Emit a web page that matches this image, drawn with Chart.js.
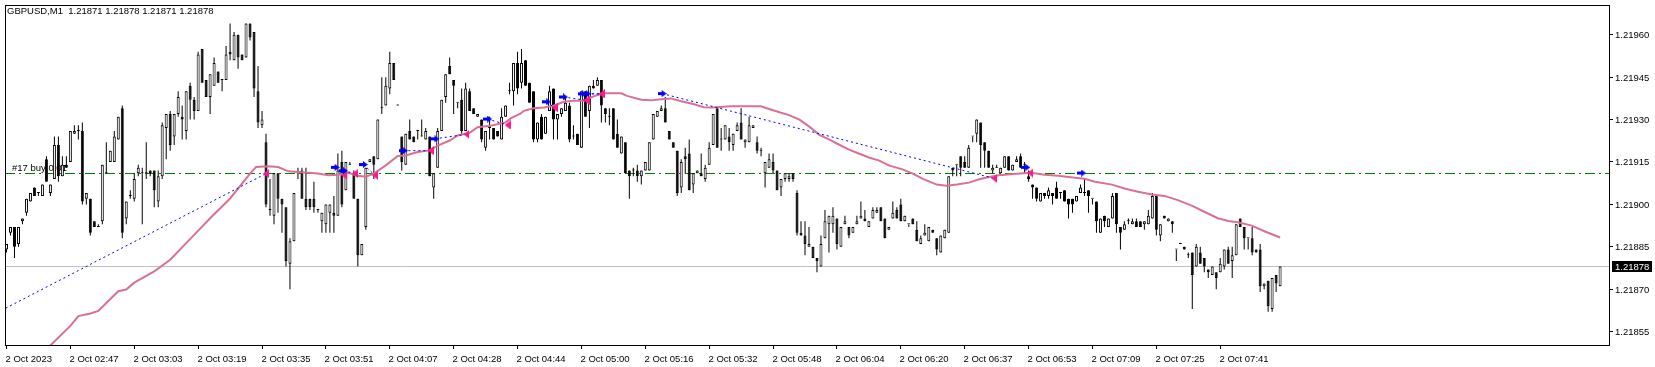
<!DOCTYPE html>
<html>
<head>
<meta charset="utf-8">
<script src="https://cdn.jsdelivr.net/npm/chart.js@4.4.0/dist/chart.umd.min.js"></script>
<style>
html, body { margin: 0; padding: 0; background: #fff; }
#wrap { width: 1655px; height: 367px; }
</style>
</head>
<body>
<div id="wrap"><canvas id="chart" width="1655" height="367"></canvas></div>
<script>
// GBPUSD M1, 320 bars
var opens = [
1.21884,1.21890,1.21892,1.21886,1.21894,1.21897,1.21901,1.21906,1.21904,1.21903,
1.21916,1.21904,1.21909,1.21921,1.21910,1.21914,1.21915,1.21925,1.21926,1.21926,
1.21902,1.21902,1.21894,1.21892,1.21894,1.21911,1.21915,1.21915,1.21923,1.21934,
1.21895,1.21903,1.21902,1.21911,1.21911,1.21911,1.21912,1.21912,1.21901,1.21910,
1.21927,1.21932,1.21924,1.21932,1.21931,1.21926,1.21942,1.21937,1.21933,1.21955,
1.21944,1.21938,1.21942,1.21947,1.21944,1.21944,1.21954,1.21951,1.21960,1.21953,
1.21952,1.21964,1.21961,1.21940,1.21928,1.21922,1.21898,1.21896,1.21911,1.21902,
1.21899,1.21879,1.21887,1.21911,1.21912,1.21902,1.21902,1.21902,1.21898,1.21894,
1.21893,1.21897,1.21897,1.21896,1.21915,1.21905,1.21914,1.21911,1.21902,1.21882,
1.21892,1.21915,1.21917,1.21916,1.21934,1.21935,1.21941,1.21950,1.21935,1.21924,
1.21914,1.21926,1.21924,1.21926,1.21924,1.21923,1.21924,1.21906,1.21913,1.21926,
1.21938,1.21949,1.21944,1.21936,1.21937,1.21926,1.21940,1.21934,1.21931,1.21930,
1.21920,1.21927,1.21927,1.21926,1.21923,1.21931,1.21940,1.21940,1.21950,1.21943,
1.21951,1.21943,1.21940,1.21923,1.21931,1.21925,1.21933,1.21941,1.21930,1.21932,
1.21933,1.21935,1.21924,1.21925,1.21920,1.21940,1.21933,1.21942,1.21942,1.21944,
1.21934,1.21931,1.21934,1.21925,1.21918,1.21922,1.21912,1.21912,1.21912,1.21910,
1.21912,1.21912,1.21923,1.21931,1.21933,1.21934,1.21926,1.21922,1.21919,1.21906,
1.21917,1.21918,1.21907,1.21911,1.21911,1.21909,1.21914,1.21921,1.21934,1.21923,
1.21923,1.21924,1.21921,1.21926,1.21929,1.21922,1.21922,1.21927,1.21922,1.21919,
1.21911,1.21913,1.21915,1.21912,1.21906,1.21909,1.21909,1.21911,1.21904,1.21890,
1.21889,1.21885,1.21885,1.21881,1.21878,1.21888,1.21893,1.21893,1.21895,1.21885,
1.21893,1.21892,1.21890,1.21893,1.21895,1.21895,1.21892,1.21895,1.21897,1.21899,
1.21895,1.21891,1.21895,1.21898,1.21900,1.21894,1.21893,1.21895,1.21891,1.21886,
1.21889,1.21887,1.21891,1.21888,1.21883,1.21888,1.21890,1.21913,1.21914,1.21917,
1.21915,1.21913,1.21924,1.21925,1.21929,1.21922,1.21919,1.21912,1.21913,1.21911,
1.21913,1.21917,1.21912,1.21915,1.21917,1.21914,1.21910,1.21907,1.21906,1.21901,
1.21904,1.21903,1.21904,1.21906,1.21904,1.21905,1.21902,1.21902,1.21901,1.21904,
1.21904,1.21905,1.21902,1.21901,1.21890,1.21896,1.21892,1.21895,1.21904,1.21892,
1.21891,1.21894,1.21893,1.21894,1.21894,1.21893,1.21893,1.21895,1.21903,1.21889,
1.21896,1.21894,1.21894,1.21884,1.21886,1.21885,1.21882,1.21883,1.21878,1.21883,
1.21881,1.21877,1.21875,1.21876,1.21876,1.21878,1.21884,1.21880,1.21882,1.21895,
1.21892,1.21888,1.21888,1.21884,1.21884,1.21871,1.21873,1.21863,1.21875,1.21871
];
var highs = [
1.21886,1.21892,1.21892,1.21892,1.21895,1.21902,1.21904,1.21906,1.21904,1.21907,
1.21917,1.21907,1.21924,1.21924,1.21917,1.21917,1.21926,1.21928,1.21928,1.21929,
1.21904,1.21902,1.21894,1.21893,1.21914,1.21922,1.21919,1.21926,1.21931,1.21935,
1.21901,1.21905,1.21911,1.21914,1.21913,1.21922,1.21912,1.21912,1.21912,1.21929,
1.21932,1.21933,1.21932,1.21940,1.21935,1.21940,1.21943,1.21938,1.21954,1.21955,
1.21944,1.21946,1.21952,1.21947,1.21944,1.21956,1.21964,1.21961,1.21960,1.21953,
1.21964,1.21964,1.21961,1.21949,1.21933,1.21925,1.21909,1.21911,1.21911,1.21902,
1.21899,1.21888,1.21904,1.21913,1.21913,1.21913,1.21902,1.21908,1.21898,1.21897,
1.21900,1.21900,1.21903,1.21918,1.21919,1.21915,1.21915,1.21912,1.21902,1.21886,
1.21913,1.21916,1.21917,1.21930,1.21945,1.21945,1.21954,1.21950,1.21935,1.21924,
1.21925,1.21930,1.21924,1.21926,1.21930,1.21927,1.21924,1.21911,1.21927,1.21937,
1.21946,1.21952,1.21944,1.21936,1.21941,1.21943,1.21941,1.21934,1.21932,1.21930,
1.21926,1.21931,1.21927,1.21926,1.21934,1.21935,1.21943,1.21950,1.21954,1.21955,
1.21951,1.21943,1.21940,1.21929,1.21932,1.21931,1.21942,1.21941,1.21932,1.21934,
1.21938,1.21936,1.21928,1.21925,1.21940,1.21940,1.21942,1.21944,1.21945,1.21944,
1.21934,1.21934,1.21934,1.21930,1.21924,1.21922,1.21912,1.21913,1.21914,1.21912,
1.21915,1.21922,1.21932,1.21933,1.21935,1.21938,1.21926,1.21922,1.21919,1.21916,
1.21920,1.21923,1.21911,1.21912,1.21918,1.21914,1.21922,1.21932,1.21934,1.21927,
1.21928,1.21927,1.21925,1.21929,1.21934,1.21923,1.21931,1.21928,1.21924,1.21920,
1.21915,1.21918,1.21918,1.21912,1.21909,1.21911,1.21911,1.21911,1.21905,1.21894,
1.21894,1.21892,1.21885,1.21881,1.21889,1.21898,1.21896,1.21899,1.21895,1.21892,
1.21896,1.21892,1.21892,1.21896,1.21901,1.21898,1.21894,1.21899,1.21899,1.21899,
1.21895,1.21892,1.21901,1.21899,1.21902,1.21896,1.21893,1.21895,1.21894,1.21889,
1.21893,1.21892,1.21891,1.21888,1.21889,1.21891,1.21910,1.21913,1.21914,1.21917,
1.21917,1.21921,1.21924,1.21930,1.21929,1.21922,1.21919,1.21914,1.21914,1.21913,
1.21917,1.21917,1.21914,1.21917,1.21918,1.21915,1.21912,1.21907,1.21906,1.21904,
1.21904,1.21906,1.21904,1.21908,1.21904,1.21905,1.21902,1.21902,1.21903,1.21907,
1.21909,1.21905,1.21902,1.21901,1.21895,1.21896,1.21895,1.21904,1.21904,1.21892,
1.21894,1.21895,1.21895,1.21895,1.21894,1.21894,1.21898,1.21904,1.21903,1.21893,
1.21896,1.21895,1.21894,1.21884,1.21886,1.21885,1.21883,1.21883,1.21886,1.21885,
1.21881,1.21877,1.21878,1.21876,1.21881,1.21884,1.21885,1.21885,1.21893,1.21895,
1.21892,1.21888,1.21892,1.21884,1.21886,1.21872,1.21873,1.21874,1.21875,1.21878
];
var lows = [
1.21883,1.21889,1.21881,1.21885,1.21893,1.21896,1.21901,1.21903,1.21903,1.21903,
1.21908,1.21903,1.21909,1.21908,1.21910,1.21913,1.21915,1.21925,1.21923,1.21900,
1.21900,1.21889,1.21892,1.21892,1.21893,1.21911,1.21915,1.21915,1.21923,1.21888,
1.21893,1.21902,1.21901,1.21910,1.21893,1.21909,1.21910,1.21899,1.21899,1.21909,
1.21916,1.21919,1.21921,1.21931,1.21923,1.21923,1.21930,1.21930,1.21933,1.21943,
1.21938,1.21932,1.21942,1.21943,1.21940,1.21944,1.21951,1.21951,1.21948,1.21951,
1.21952,1.21958,1.21938,1.21927,1.21927,1.21899,1.21896,1.21893,1.21897,1.21890,
1.21878,1.21870,1.21887,1.21909,1.21902,1.21898,1.21898,1.21897,1.21897,1.21890,
1.21890,1.21890,1.21890,1.21896,1.21899,1.21905,1.21914,1.21902,1.21878,1.21882,
1.21891,1.21915,1.21909,1.21916,1.21932,1.21935,1.21939,1.21944,1.21935,1.21912,
1.21914,1.21923,1.21922,1.21923,1.21924,1.21923,1.21910,1.21902,1.21913,1.21926,
1.21936,1.21946,1.21932,1.21934,1.21925,1.21926,1.21933,1.21932,1.21931,1.21922,
1.21919,1.21923,1.21923,1.21924,1.21923,1.21931,1.21939,1.21935,1.21939,1.21941,
1.21942,1.21936,1.21922,1.21922,1.21923,1.21925,1.21933,1.21923,1.21923,1.21931,
1.21933,1.21922,1.21923,1.21921,1.21920,1.21931,1.21927,1.21941,1.21942,1.21929,
1.21929,1.21928,1.21923,1.21920,1.21918,1.21911,1.21902,1.21910,1.21908,1.21907,
1.21912,1.21912,1.21923,1.21931,1.21933,1.21929,1.21923,1.21920,1.21903,1.21904,
1.21911,1.21905,1.21904,1.21911,1.21910,1.21908,1.21914,1.21921,1.21920,1.21919,
1.21923,1.21919,1.21919,1.21926,1.21923,1.21920,1.21922,1.21927,1.21918,1.21917,
1.21906,1.21913,1.21911,1.21905,1.21903,1.21908,1.21908,1.21908,1.21889,1.21889,
1.21882,1.21885,1.21881,1.21876,1.21878,1.21888,1.21883,1.21890,1.21884,1.21885,
1.21893,1.21888,1.21890,1.21893,1.21895,1.21894,1.21892,1.21895,1.21897,1.21894,
1.21888,1.21891,1.21895,1.21895,1.21894,1.21894,1.21892,1.21893,1.21887,1.21886,
1.21889,1.21887,1.21890,1.21882,1.21883,1.21888,1.21890,1.21910,1.21910,1.21910,
1.21913,1.21913,1.21922,1.21922,1.21913,1.21913,1.21913,1.21911,1.21913,1.21911,
1.21913,1.21912,1.21912,1.21915,1.21913,1.21911,1.21908,1.21902,1.21901,1.21901,
1.21902,1.21902,1.21900,1.21902,1.21902,1.21901,1.21895,1.21897,1.21901,1.21904,
1.21903,1.21897,1.21900,1.21890,1.21890,1.21892,1.21892,1.21895,1.21890,1.21884,
1.21891,1.21893,1.21893,1.21892,1.21892,1.21891,1.21893,1.21895,1.21889,1.21887,
1.21895,1.21894,1.21890,1.21880,1.21886,1.21884,1.21881,1.21863,1.21878,1.21879,
1.21876,1.21874,1.21875,1.21870,1.21876,1.21877,1.21879,1.21874,1.21882,1.21892,
1.21884,1.21884,1.21882,1.21883,1.21869,1.21870,1.21862,1.21862,1.21869,1.21871
];
var closes = [
1.21886,1.21892,1.21885,1.21892,1.21895,1.21902,1.21904,1.21903,1.21904,1.21907,
1.21908,1.21907,1.21921,1.21910,1.21914,1.21913,1.21926,1.21926,1.21926,1.21901,
1.21904,1.21890,1.21892,1.21892,1.21914,1.21911,1.21919,1.21924,1.21931,1.21890,
1.21901,1.21903,1.21909,1.21913,1.21911,1.21911,1.21911,1.21905,1.21910,1.21928,
1.21932,1.21921,1.21932,1.21938,1.21930,1.21940,1.21937,1.21933,1.21953,1.21943,
1.21938,1.21946,1.21950,1.21943,1.21944,1.21953,1.21953,1.21960,1.21952,1.21951,
1.21964,1.21959,1.21941,1.21929,1.21930,1.21900,1.21898,1.21911,1.21902,1.21900,
1.21880,1.21887,1.21904,1.21911,1.21902,1.21899,1.21899,1.21899,1.21898,1.21897,
1.21900,1.21900,1.21896,1.21912,1.21900,1.21915,1.21914,1.21902,1.21882,1.21886,
1.21913,1.21916,1.21914,1.21930,1.21934,1.21942,1.21950,1.21944,1.21935,1.21915,
1.21925,1.21923,1.21922,1.21926,1.21924,1.21926,1.21910,1.21911,1.21926,1.21937,
1.21946,1.21946,1.21942,1.21936,1.21926,1.21941,1.21933,1.21932,1.21932,1.21923,
1.21926,1.21928,1.21923,1.21924,1.21931,1.21935,1.21940,1.21950,1.21941,1.21950,
1.21942,1.21936,1.21923,1.21929,1.21923,1.21931,1.21940,1.21930,1.21932,1.21934,
1.21936,1.21923,1.21924,1.21921,1.21940,1.21931,1.21942,1.21941,1.21944,1.21935,
1.21932,1.21931,1.21923,1.21920,1.21924,1.21911,1.21910,1.21912,1.21910,1.21912,
1.21915,1.21922,1.21932,1.21933,1.21934,1.21929,1.21923,1.21920,1.21904,1.21915,
1.21916,1.21905,1.21911,1.21912,1.21910,1.21913,1.21920,1.21932,1.21920,1.21923,
1.21928,1.21922,1.21925,1.21928,1.21923,1.21923,1.21928,1.21928,1.21919,1.21919,
1.21915,1.21916,1.21912,1.21905,1.21909,1.21911,1.21910,1.21909,1.21890,1.21889,
1.21886,1.21886,1.21881,1.21880,1.21886,1.21894,1.21896,1.21896,1.21886,1.21892,
1.21894,1.21889,1.21892,1.21894,1.21896,1.21894,1.21894,1.21898,1.21898,1.21894,
1.21888,1.21892,1.21897,1.21895,1.21894,1.21896,1.21893,1.21893,1.21887,1.21888,
1.21890,1.21892,1.21890,1.21884,1.21889,1.21891,1.21910,1.21912,1.21914,1.21913,
1.21913,1.21920,1.21924,1.21930,1.21921,1.21919,1.21913,1.21913,1.21913,1.21913,
1.21917,1.21912,1.21914,1.21916,1.21913,1.21914,1.21909,1.21906,1.21902,1.21904,
1.21903,1.21905,1.21903,1.21902,1.21904,1.21901,1.21900,1.21900,1.21903,1.21906,
1.21904,1.21903,1.21902,1.21894,1.21895,1.21894,1.21895,1.21903,1.21893,1.21890,
1.21893,1.21894,1.21894,1.21892,1.21892,1.21894,1.21896,1.21903,1.21891,1.21893,
1.21895,1.21895,1.21893,1.21884,1.21886,1.21884,1.21882,1.21875,1.21885,1.21879,
1.21878,1.21876,1.21878,1.21874,1.21879,1.21884,1.21879,1.21882,1.21893,1.21892,
1.21888,1.21888,1.21883,1.21883,1.21871,1.21872,1.21864,1.21874,1.21872,1.21878
];

// moving average (pink), read at these bar positions
var maIdx = [8,16,18,21,23,28,30,32,37,41,47,51,56,61,62.5,65.6,68,70.6,73,75.6,78,80.6,83,85.6,88,90,92,95,98,100,
  103,106,108,111,113,116,118,121.5,125,126.4,128.6,129.6,132,134.6,137,139.6,142,144.6,147,149.6,154,155.4,159,161.4,164,166.4,169,172,174.6,177,
  181.4,184.6,189,190.4,193.6,196,198.6,201,203.6,206,208.6,211,213.6,216,218.6,221,224.4,227,229.4,233,235.4,238,241.1,243.6,246.1,248.6,252.9,256.6,260,263.4,
  267.6,270,272.6,276.9,280,283.4,286.9,290,293.4,297,300,303.4,306,308.4,311.9,315.2,319];
var maVal = [1.218460,1.218570,1.218605,1.218614,1.218623,1.218693,1.218699,1.218723,1.218763,1.218804,1.218892,1.218951,1.219021,1.219109,1.219132,1.219135,1.219132,1.219117,1.219115,1.219112,1.219109,1.219103,1.219105,1.219112,1.219101,1.219098,1.219109,1.219138,1.219171,1.219173,
  1.219185,1.219191,1.219208,1.219226,1.219244,1.219253,1.219273,1.219279,1.219290,1.219305,1.219320,1.219331,1.219340,1.219343,1.219349,1.219363,1.219367,1.219367,1.219382,1.219393,1.219393,1.219384,1.219370,1.219368,1.219372,1.219375,1.219365,1.219355,1.219344,1.219343,
  1.219347,1.219347,1.219347,1.219340,1.219326,1.219316,1.219300,1.219276,1.219246,1.219230,1.219211,1.219194,1.219179,1.219166,1.219155,1.219138,1.219124,1.219109,1.219091,1.219070,1.219066,1.219070,1.219077,1.219089,1.219097,1.219103,1.219108,1.219112,1.219105,1.219101,
  1.219094,1.219091,1.219080,1.219070,1.219056,1.219045,1.219035,1.219030,1.219015,1.218995,1.218974,1.218951,1.218941,1.218937,1.218925,1.218904,1.218883];

// trades: open (blue arrow) -> close (pink triangle); null = still open
var tradeOpenIdx    = [-0.2, 82.3, 84.4, 89.4, 99.4, 107.3, 120.5, 135.3, 139.5, 144.2, 145.3, 164.2, 255.3, 269.3];
var tradeOpenPrice  = [1.218633, 1.219131, 1.219119, 1.219141, 1.219190, 1.219232, 1.219302, 1.219363, 1.219380, 1.219391, 1.219391, 1.219392, 1.219131, 1.219111];
var tradeCloseIdx   = [65.0, 84.6, 87.3, 92.3, 106.3, 115.2, 125.5, 137.3, 145.3, 149.2, 149.2, 247.4, 256.4, null];
var tradeClosePrice = [1.219109, 1.219103, 1.219109, 1.219103, 1.219190, 1.219248, 1.219281, 1.219342, 1.219368, 1.219391, 1.219391, 1.219092, 1.219111, null];

var orderPrice = 1.21911;
var orderLabel = '#17 buy 0.01';
var bidPrice = 1.21878;
var title = 'GBPUSD,M1  1.21871 1.21878 1.21871 1.21878';

var yTicks = [1.21960, 1.21945, 1.21930, 1.21915, 1.21900, 1.21885, 1.21870, 1.21855];
var xTickIdx = [0,16,32,48,64,80,96,112,128,144,160,176,192,208,224,240,256,272,288,304];
var xTickLabels = ['2 Oct 2023','2 Oct 02:47','2 Oct 03:03','2 Oct 03:19','2 Oct 03:35','2 Oct 03:51','2 Oct 04:07',
  '2 Oct 04:28','2 Oct 04:44','2 Oct 05:00','2 Oct 05:16','2 Oct 05:32','2 Oct 05:48','2 Oct 06:04','2 Oct 06:20',
  '2 Oct 06:37','2 Oct 06:53','2 Oct 07:09','2 Oct 07:25','2 Oct 07:41'];

var FONT = '9.5px "Liberation Sans", Arial, sans-serif';

// little icons for the trade arrows
function buyArrow() {
    var c = document.createElement('canvas');
    c.width = 9; c.height = 7;
    var g = c.getContext('2d');
    g.fillStyle = '#0000ff';
    g.beginPath();
    g.moveTo(0, 2); g.lineTo(4, 2); g.lineTo(4, 0); g.lineTo(9, 3.5);
    g.lineTo(4, 7); g.lineTo(4, 5); g.lineTo(0, 5);
    g.closePath(); g.fill();
    return c;
}
function closeMark() {
    var c = document.createElement('canvas');
    c.width = 6; c.height = 9;
    var g = c.getContext('2d');
    g.fillStyle = '#ff1a8c';
    g.beginPath();
    g.moveTo(0, 4.5); g.lineTo(6, 0); g.lineTo(6, 9);
    g.closePath(); g.fill();
    return c;
}

//candles
var wickData = opens.map(function (o, i) { return {x: i, y: [lows[i], highs[i]]}; });
var bodyData = opens.map(function (o, i) { return {x: i, y: [o, closes[i]]}; });
var bodyFill = opens.map(function (o, i) { return closes[i] > o ? '#ffffff' : '#000000'; });

var datasets = [
    {type: 'bar', data: wickData, backgroundColor: '#000000', borderWidth: 0, barThickness: 1,
     grouped: false, minBarLength: 1, inflateAmount: 0, order: 6},
    {type: 'bar', data: bodyData, backgroundColor: bodyFill, borderColor: '#000000', borderWidth: 1,
     borderSkipped: false, barThickness: 3, grouped: false, minBarLength: 1, inflateAmount: 0, order: 5},
    {type: 'line', data: maIdx.map(function (v, i) { return {x: v, y: maVal[i]}; }),
     borderColor: '#db7093', borderWidth: 2, pointRadius: 0, tension: 0, order: 4}
];

//trade lines
var opensPts = [], closesPts = [];
for (var t = 0; t < tradeOpenIdx.length; t++) {
    if (tradeOpenIdx[t] >= 0) opensPts.push({x: tradeOpenIdx[t], y: tradeOpenPrice[t]});
    if (tradeCloseIdx[t] === null) continue;
    closesPts.push({x: tradeCloseIdx[t], y: tradeClosePrice[t]});
    datasets.push({type: 'line', data: [{x: tradeOpenIdx[t], y: tradeOpenPrice[t]}, {x: tradeCloseIdx[t], y: tradeClosePrice[t]}],
        borderColor: '#0000ff', borderWidth: 1, borderDash: [2, 3], pointRadius: 0, order: 3});
}
datasets.push({type: 'line', data: opensPts, showLine: false, pointStyle: buyArrow(), pointRadius: 4, order: 1});
datasets.push({type: 'line', data: closesPts, showLine: false, pointStyle: closeMark(), pointRadius: 4, order: 2});

var mt4Frame = {
    id: 'mt4Frame',
    beforeDraw: function (chart) {
        var ctx = chart.ctx;
        ctx.save();
        ctx.fillStyle = '#ffffff';
        ctx.fillRect(0, 0, chart.width, chart.height);
        ctx.restore();
    },
    beforeDatasetsDraw: function (chart) {
        var ctx = chart.ctx, a = chart.chartArea, y = chart.scales.y;
        ctx.save();
        ctx.lineWidth = 1;
        // bid line
        var yb = Math.floor(y.getPixelForValue(bidPrice)) + 0.5;
        ctx.strokeStyle = '#c0c0c0';
        ctx.beginPath(); ctx.moveTo(a.left, yb); ctx.lineTo(a.right, yb); ctx.stroke();
        // open order line
        var yo = Math.floor(y.getPixelForValue(orderPrice)) + 0.5;
        ctx.strokeStyle = '#008000';
        ctx.setLineDash([10, 4, 2, 4]);
        ctx.beginPath(); ctx.moveTo(a.left, yo); ctx.lineTo(a.right, yo); ctx.stroke();
        ctx.setLineDash([]);
        ctx.font = FONT;
        ctx.fillStyle = '#000000';
        ctx.textBaseline = 'alphabetic';
        ctx.fillText(orderLabel, a.left + 7, yo - 2.5);
        ctx.restore();
    },
    afterDraw: function (chart) {
        var ctx = chart.ctx, a = chart.chartArea, x = chart.scales.x, y = chart.scales.y;
        ctx.save();
        ctx.strokeStyle = '#000000';
        ctx.lineWidth = 1;
        var top = Math.floor(a.top), bot = Math.floor(a.bottom);
        ctx.strokeRect(a.left + 0.5, top + 0.5, a.right - a.left - 1, bot - top);
        ctx.font = FONT;
        ctx.fillStyle = '#000000';
        // price axis
        ctx.textBaseline = 'middle';
        ctx.textAlign = 'left';
        yTicks.forEach(function (v) {
            var py = Math.floor(y.getPixelForValue(v)) + 0.5;
            ctx.beginPath(); ctx.moveTo(a.right, py); ctx.lineTo(a.right + 3, py); ctx.stroke();
            ctx.fillText(v.toFixed(5), a.right + 5, py + 0.5);
        });
        // bid box
        var yb = Math.floor(y.getPixelForValue(bidPrice)) + 0.5;
        ctx.fillStyle = '#000000';
        ctx.fillRect(a.right + 2, yb - 5.5, 40, 11);
        ctx.fillStyle = '#ffffff';
        ctx.fillText(bidPrice.toFixed(5), a.right + 5, yb + 0.5);
        // time axis
        ctx.fillStyle = '#000000';
        ctx.textBaseline = 'alphabetic';
        xTickIdx.forEach(function (v, i) {
            var px = Math.floor(x.getPixelForValue(v)) + 0.5;
            ctx.beginPath(); ctx.moveTo(px, bot + 1); ctx.lineTo(px, bot + 4); ctx.stroke();
            ctx.fillText(xTickLabels[i], px - 1, 362);
        });
        // header
        ctx.fillText(title, 7, 14);
        ctx.restore();
    }
};

new Chart(document.getElementById('chart').getContext('2d'), {
    type: 'bar',
    data: {datasets: datasets},
    options: {
        responsive: false,
        animation: false,
        events: [],
        layout: {padding: {left: 2, top: 2.5, right: 45, bottom: 21.5}},
        plugins: {legend: {display: false}, tooltip: {enabled: false}},
        scales: {
            x: {type: 'linear', display: false, offset: false, min: -0.375, max: 401.625},
            y: {type: 'linear', display: false, min: 1.2185008, max: 1.2197054}
        }
    },
    plugins: [mt4Frame]
});
</script>
</body>
</html>
